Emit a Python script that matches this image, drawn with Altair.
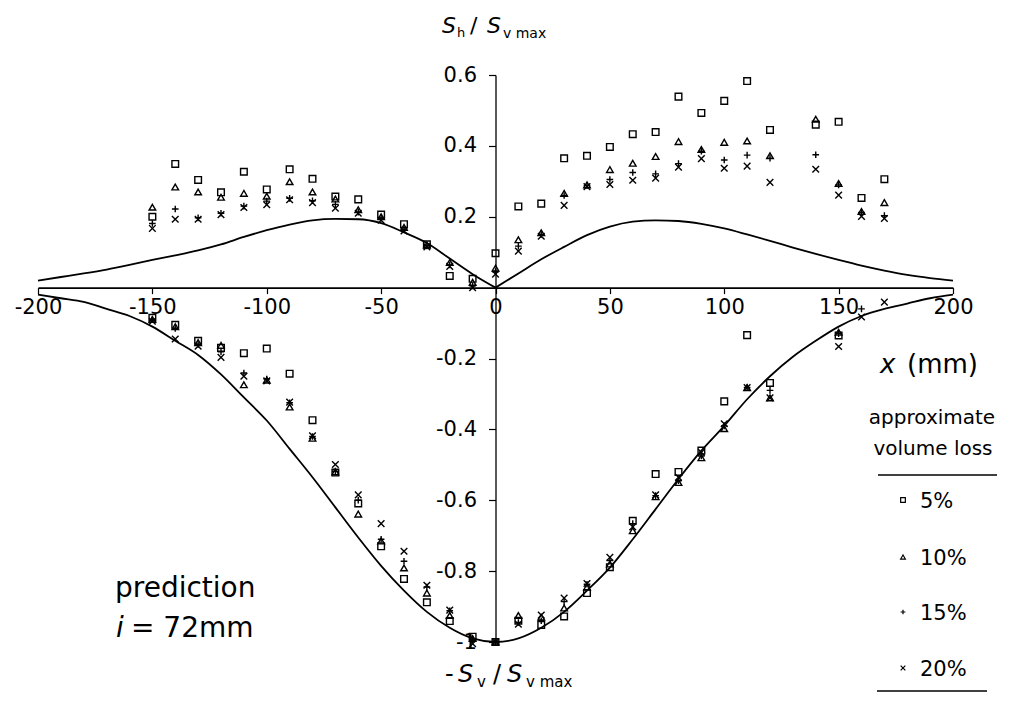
import altair as alt
import pandas as pd

FONT = "DejaVu Sans"

# ---------------- data ----------------
SERIES = ["5%", "10%", "15%", "20%"]

X_POS = [-150, -140, -130, -120, -110, -100, -90, -80, -70, -60, -50, -40, -30, -20, -10,
         0, 10, 20, 30, 40, 50, 60, 70, 80, 90, 100, 110, 120, 130, 140, 150, 160, 170]

# horizontal displacement  S_h / S_v max  (upper group)
H_5 = [0.200, 0.349, 0.304, 0.269, 0.327, 0.277, 0.334, 0.307, 0.257, 0.249, 0.206, 0.179, 0.122, 0.033, 0.025,
       0.097, 0.229, 0.237, 0.365, 0.372, 0.397, 0.433, 0.439, 0.539, 0.493, 0.527, 0.583, 0.445, None, 0.460, 0.468, 0.253, 0.306]
H_10 = [0.227, 0.284, 0.270, 0.255, 0.266, 0.258, 0.299, 0.270, 0.250, 0.220, 0.200, 0.170, 0.120, 0.071, 0.015,
        0.055, 0.135, 0.155, 0.266, 0.290, 0.333, 0.351, 0.370, 0.412, 0.390, 0.410, 0.414, 0.372, None, 0.475, 0.294, 0.215, 0.240]
H_15 = [0.181, 0.222, 0.197, 0.210, 0.230, 0.244, 0.252, 0.245, 0.235, 0.213, 0.196, 0.165, 0.118, 0.064, 0.005,
        0.045, 0.117, 0.150, 0.260, 0.288, 0.305, 0.325, 0.321, 0.350, 0.385, 0.360, 0.374, 0.365, None, 0.375, 0.290, 0.212, 0.203]
H_20 = [0.167, 0.193, 0.193, 0.206, 0.226, 0.234, 0.248, 0.240, 0.224, 0.210, 0.190, 0.160, 0.115, 0.060, 0.000,
        0.038, 0.103, 0.145, 0.232, 0.285, 0.291, 0.303, 0.309, 0.340, 0.364, 0.337, 0.343, 0.297, None, 0.334, 0.261, 0.201, 0.195]

# settlement  -S_v / S_v max  (lower group)
V_5 = [-0.085, -0.105, -0.150, -0.170, -0.185, -0.172, -0.243, -0.374, -0.522, -0.609, -0.730, -0.822, -0.888, -0.941, -0.985,
       -1.000, -0.940, -0.952, -0.928, -0.862, -0.789, -0.658, -0.526, -0.520, -0.460, -0.321, -0.134, -0.269, None, None, -0.135, None, None]
V_10 = [-0.090, -0.110, -0.155, -0.163, -0.274, -0.261, -0.337, -0.425, -0.520, -0.639, -0.715, -0.791, -0.862, -0.925, -0.990,
        -1.000, -0.925, -0.930, -0.904, -0.845, -0.780, -0.686, -0.590, -0.550, -0.480, -0.398, -0.282, -0.311, None, None, -0.126, None, None]
V_15 = [-0.090, -0.115, -0.160, -0.181, -0.241, -0.258, -0.325, -0.420, -0.518, -0.600, -0.710, -0.772, -0.845, -0.912, -0.995,
        -1.000, -0.945, -0.940, -0.886, -0.837, -0.770, -0.666, -0.587, -0.545, -0.475, -0.390, -0.282, -0.290, None, None, -0.130, -0.060, None]
V_20 = [-0.095, -0.145, -0.165, -0.197, -0.250, -0.263, -0.323, -0.418, -0.499, -0.585, -0.666, -0.744, -0.840, -0.910, -1.005,
        -1.000, -0.950, -0.924, -0.876, -0.835, -0.761, -0.675, -0.585, -0.535, -0.465, -0.384, -0.282, -0.311, None, None, -0.166, -0.083, -0.041]

# prediction curves (i = 72 mm), read every 10 mm
CURVE_X = list(range(-200, 201, 10))
PRED_H = [0.020, 0.030, 0.040, 0.051, 0.064, 0.078, 0.091, 0.105, 0.122, 0.143, 0.162, 0.178, 0.190, 0.194, 0.193,
          0.182, 0.156, 0.126, 0.082, 0.038, 0.000, 0.040, 0.080, 0.115, 0.148, 0.172, 0.186, 0.190, 0.188, 0.180,
          0.167, 0.150, 0.132, 0.113, 0.095, 0.078, 0.062, 0.048, 0.036, 0.027, 0.020]
PRED_V = [-0.020, -0.030, -0.040, -0.060, -0.080, -0.110, -0.150, -0.190, -0.245, -0.310, -0.375, -0.455, -0.535, -0.620,
          -0.705, -0.785, -0.855, -0.915, -0.960, -0.990, -1.000, -0.990, -0.960, -0.915, -0.855, -0.790, -0.710, -0.625,
          -0.540, -0.460, -0.390, -0.315, -0.250, -0.195, -0.150, -0.110, -0.080, -0.060, -0.045, -0.030, -0.020]

X_TICKS = [-200, -150, -100, -50, 0, 50, 100, 150, 200]
Y_TICKS = [0.6, 0.4, 0.2, -0.2, -0.4, -0.6, -0.8, -1]

# ---------------- tables ----------------
rows = []
for name, hs, vs in zip(SERIES, [H_5, H_10, H_15, H_20], [V_5, V_10, V_15, V_20]):
    for x, h, v in zip(X_POS, hs, vs):
        if h is not None:
            rows.append({"x": x, "value": h, "series": name})
        if v is not None:
            rows.append({"x": x, "value": v, "series": name})
points = pd.DataFrame(rows)

crow = []
for x, h, v in zip(CURVE_X, PRED_H, PRED_V):
    if x <= 0:
        crow.append({"x": x, "value": h, "curve": "h_left"})
    if x >= 0:
        crow.append({"x": x, "value": h, "curve": "h_right"})
    crow.append({"x": x, "value": v, "curve": "v"})
curves = pd.DataFrame(crow)

W, H = 915, 567
x_scale = alt.Scale(domain=[-200, 200], nice=False, zero=False)
y_scale = alt.Scale(domain=[-1, 0.6], nice=False, zero=False)
y0_px = H * 0.6 / 1.6

x_axis = alt.Axis(title=None, values=X_TICKS, labelExpr="datum.value + ''", grid=False,
                  offset=y0_px - H, labelFont=FONT, labelFontSize=21, labelColor="black",
                  labelPadding=3, tickSize=6, tickColor="black", tickWidth=1.2,
                  domainColor="black", domainWidth=1.6, labelFlush=False, labelOverlap=False)
y_axis = alt.Axis(title=None, values=Y_TICKS, labelExpr="datum.value + ''", grid=False,
                  offset=-W / 2, labelFont=FONT, labelFontSize=21, labelColor="black",
                  labelPadding=12, tickSize=7, tickColor="black", tickWidth=1.2,
                  domainColor="black", domainWidth=1.3, labelFlush=False, labelOverlap=False)

X = alt.X("x:Q", scale=x_scale, axis=x_axis)
Y = alt.Y("value:Q", scale=y_scale, axis=y_axis)

curve_layer = alt.Chart(curves).mark_line(color="black", strokeWidth=1.8, interpolate="monotone").encode(
    x=X, y=Y, detail="curve:N")

PLUS = "M-1,0L1,0M0,-1L0,1"
CROSS = "M-1,-1L1,1M-1,1L1,-1"
shape_scale = alt.Scale(domain=SERIES, range=["square", "triangle-up", PLUS, CROSS])

point_layer = alt.Chart(points).mark_point(filled=False, color="black", opacity=1, strokeWidth=1.4, size=44).encode(
    x=X, y=Y,
    shape=alt.Shape("series:N", scale=shape_scale, legend=None),
)

one = pd.DataFrame({"a": [0]})


def txt(text, x, y, size, italic=False, align="left"):
    return alt.Chart(one).mark_text(text=text, font=FONT, fontSize=size, color="black",
                                    fontStyle="italic" if italic else "normal",
                                    align=align, baseline="alphabetic").encode(
        x=alt.value(x), y=alt.value(y))


def rule(x1, x2, y):
    return alt.Chart(one).mark_rule(color="black", strokeWidth=1.3).encode(
        x=alt.value(x1), x2=alt.value(x2), y=alt.value(y))


# hand-made legend: one small symbol + label per volume-loss series
legend_rows = [425, 482, 537, 593]
legend_layers = []
for name, ry in zip(SERIES, legend_rows):
    legend_layers.append(
        alt.Chart(pd.DataFrame({"series": [name]})).mark_point(
            filled=False, color="black", opacity=1, strokeWidth=1.2, size=22).encode(
            x=alt.value(865), y=alt.value(ry),
            shape=alt.Shape("series:N", scale=shape_scale, legend=None)))
    legend_layers.append(txt(name, 882, ry + 8, 21))

annotations = [
    # top axis label  S_h / S_v max
    txt("S", 404, -42, 22, italic=True),
    txt("h", 419, -38, 13),
    txt("/", 432, -42, 22),
    txt("S", 449, -42, 22, italic=True),
    txt("v max", 465, -37, 14),
    # bottom axis label  - S_v / S_v max
    txt("-", 407, 607, 24),
    txt("S", 420, 607, 24, italic=True),
    txt("v", 439, 612, 15),
    txt("/", 455, 607, 24),
    txt("S", 469, 607, 24, italic=True),
    txt("v max", 488, 612, 15),
    # x axis title
    txt("x", 842, 298, 26, italic=True),
    txt("(mm)", 869, 298, 26),
    # prediction note
    txt("prediction", 77, 522, 28),
    txt("i", 78, 562, 28, italic=True),
    txt("= 72mm", 93, 562, 28),
    # legend heading
    txt("approximate", 894, 349, 20, align="center"),
    txt("volume loss", 895, 380, 20, align="center"),
    rule(840, 959, 400),
    rule(839, 949, 616),
]

chart = alt.layer(curve_layer, point_layer, *legend_layers, *annotations).properties(
    width=W, height=H,
    autosize=alt.AutoSizeParams(type="none"),
    padding={"left": 30, "top": 67, "right": 48, "bottom": 50},
).configure_view(stroke=None)

chart.save("out.html", embed_options={"renderer": "svg", "actions": False})
